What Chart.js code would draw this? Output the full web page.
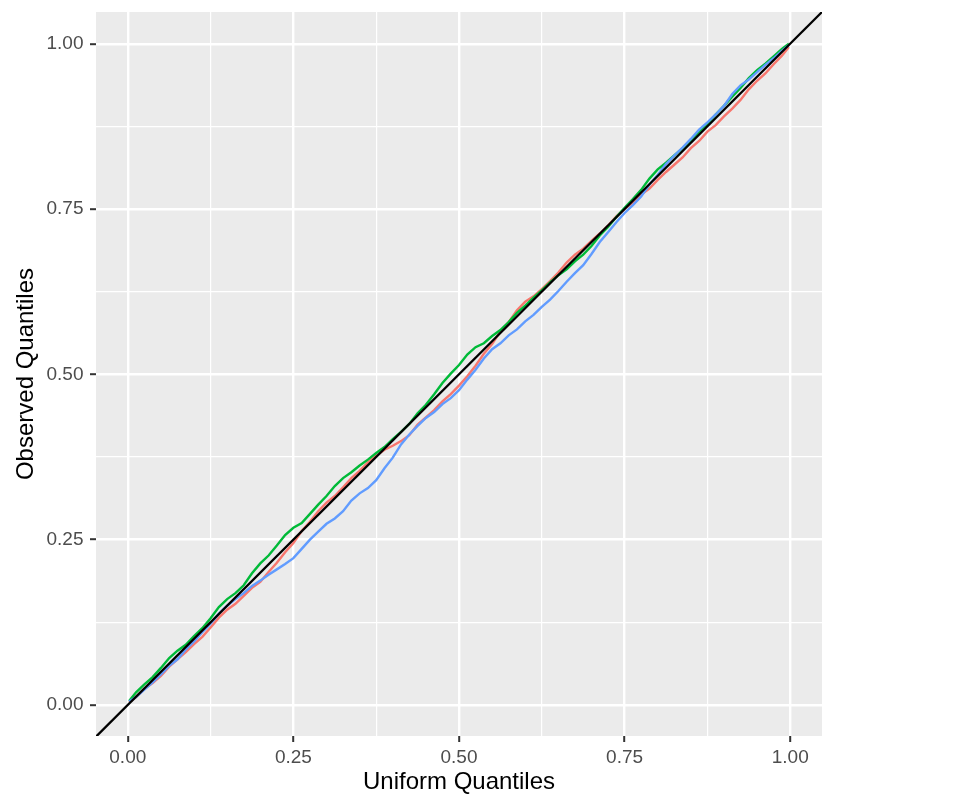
<!DOCTYPE html>
<html>
<head>
<meta charset="utf-8">
<script src="https://cdn.jsdelivr.net/npm/chart.js@4.4.1/dist/chart.umd.min.js"></script>
<style>
  html, body { margin: 0; padding: 0; background: #fff; }
  #wrap { width: 969px; height: 807px; }
</style>
</head>
<body>
<div id="wrap"><canvas id="qqChart" width="969" height="807"></canvas></div>
<script>
// uniform quantiles (x) shared by the three samples
const uniformQ = [0.002, 0.0125, 0.025, 0.0375, 0.05, 0.0625, 0.075, 0.0875, 0.1, 0.1125,
  0.125, 0.1375, 0.15, 0.1625, 0.175, 0.1875, 0.2, 0.2125, 0.225, 0.2375,
  0.25, 0.2625, 0.275, 0.2875, 0.3, 0.3125, 0.325, 0.3375, 0.35, 0.3625,
  0.375, 0.3875, 0.4, 0.4125, 0.425, 0.4375, 0.45, 0.4625, 0.475, 0.4875,
  0.5, 0.5125, 0.525, 0.5375, 0.55, 0.5625, 0.575, 0.5875, 0.6, 0.6125,
  0.625, 0.6375, 0.65, 0.6625, 0.675, 0.6875, 0.7, 0.7125, 0.725, 0.7375,
  0.75, 0.7625, 0.775, 0.7875, 0.8, 0.8125, 0.825, 0.8375, 0.85, 0.8625,
  0.875, 0.8875, 0.9, 0.9125, 0.925, 0.9375, 0.95, 0.9625, 0.975, 0.9875, 0.998];

// observed quantiles
const redObs = [0.004, 0.012, 0.024, 0.033, 0.044, 0.058, 0.069, 0.080, 0.092, 0.103,
  0.117, 0.132, 0.144, 0.153, 0.165, 0.177, 0.186, 0.201, 0.215, 0.231,
  0.245, 0.263, 0.277, 0.293, 0.306, 0.316, 0.329, 0.343, 0.354, 0.367,
  0.377, 0.386, 0.392, 0.399, 0.408, 0.424, 0.435, 0.446, 0.459, 0.470,
  0.483, 0.497, 0.513, 0.531, 0.546, 0.565, 0.579, 0.597, 0.610, 0.618,
  0.629, 0.641, 0.654, 0.669, 0.681, 0.690, 0.702, 0.713, 0.725, 0.739,
  0.750, 0.760, 0.772, 0.781, 0.794, 0.806, 0.817, 0.828, 0.842, 0.853,
  0.867, 0.877, 0.890, 0.902, 0.915, 0.931, 0.944, 0.955, 0.969, 0.982, 0.995];
const greenObs = [0.006, 0.019, 0.031, 0.042, 0.056, 0.071, 0.082, 0.091, 0.104, 0.116,
  0.131, 0.148, 0.160, 0.169, 0.181, 0.199, 0.214, 0.226, 0.241, 0.257,
  0.268, 0.275, 0.289, 0.303, 0.316, 0.331, 0.343, 0.352, 0.362, 0.371,
  0.381, 0.390, 0.402, 0.413, 0.425, 0.441, 0.454, 0.470, 0.487, 0.501,
  0.514, 0.530, 0.541, 0.547, 0.558, 0.567, 0.579, 0.593, 0.604, 0.616,
  0.627, 0.639, 0.650, 0.659, 0.671, 0.681, 0.694, 0.710, 0.723, 0.738,
  0.752, 0.765, 0.779, 0.796, 0.810, 0.820, 0.831, 0.842, 0.854, 0.867,
  0.879, 0.893, 0.906, 0.920, 0.933, 0.948, 0.960, 0.970, 0.981, 0.992, 1.000];
const blueObs = [0.005, 0.012, 0.023, 0.034, 0.046, 0.059, 0.069, 0.084, 0.096, 0.110,
  0.123, 0.138, 0.150, 0.160, 0.169, 0.180, 0.188, 0.197, 0.205, 0.213,
  0.222, 0.236, 0.250, 0.262, 0.274, 0.282, 0.293, 0.309, 0.320, 0.328,
  0.340, 0.358, 0.374, 0.394, 0.409, 0.422, 0.434, 0.443, 0.455, 0.464,
  0.476, 0.492, 0.507, 0.524, 0.538, 0.547, 0.559, 0.568, 0.580, 0.590,
  0.602, 0.613, 0.626, 0.640, 0.653, 0.665, 0.682, 0.700, 0.715, 0.730,
  0.744, 0.756, 0.769, 0.787, 0.802, 0.818, 0.831, 0.843, 0.856, 0.870,
  0.881, 0.893, 0.906, 0.924, 0.937, 0.946, 0.957, 0.968, 0.978, 0.989, 0.998];

// identity reference line
const refX = [-0.1, 1.1];
const refY = [-0.1, 1.1];

// major + minor grid positions, labels only on the majors
const gridVals = [0, 0.125, 0.25, 0.375, 0.5, 0.625, 0.75, 0.875, 1];
const majorVals = [0, 0.25, 0.5, 0.75, 1];

const pts = (xs, ys) => xs.map((x, i) => ({ x: x, y: ys[i] }));
const isMajor = v => majorVals.indexOf(v) !== -1;

const panelBg = {
  id: 'panelBg',
  beforeDraw(chart) {
    const a = chart.chartArea, c = chart.ctx;
    c.save();
    c.fillStyle = '#EBEBEB';
    c.fillRect(a.left, a.top, a.right - a.left, a.bottom - a.top);
    c.restore();
  }
};

function axisOpts(min, max, titleText, titlePad, isY) {
  return {
    type: 'linear',
    min: min,
    max: max,
    afterBuildTicks: s => { s.ticks = gridVals.map(v => ({ value: v })); },
    afterFit: s => {
      if (isY) s.width = 96; else s.height = 71;
      s.paddingTop = 0; s.paddingBottom = 0; s.paddingLeft = 0; s.paddingRight = 0;
    },
    ticks: {
      autoSkip: false,
      color: '#4D4D4D',
      font: { family: 'Liberation Sans, Arial, sans-serif', size: 19 },
      padding: isY ? 6.5 : 4,
      callback: v => isMajor(v) ? v.toFixed(2) : ''
    },
    grid: {
      color: '#FFFFFF',
      lineWidth: c => isMajor(c.tick.value) ? 2.4 : 1.2,
      drawTicks: true,
      tickLength: 6,
      tickWidth: 2,
      tickColor: c => isMajor(c.tick.value) ? '#333333' : 'rgba(0,0,0,0)'
    },
    border: { display: false },
    title: {
      display: true,
      text: titleText,
      color: '#000000',
      font: { family: 'Liberation Sans, Arial, sans-serif', size: 24 },
      padding: titlePad
    }
  };
}

new Chart(document.getElementById('qqChart').getContext('2d'), {
  type: 'line',
  data: {
    datasets: [
      { data: pts(refX, refY), borderColor: '#000000', borderWidth: 2.3, clip: 0, order: 0 },
      { data: pts(uniformQ, blueObs), borderColor: '#619CFF', borderWidth: 2.4, order: 1 },
      { data: pts(uniformQ, greenObs), borderColor: '#00BA38', borderWidth: 2.4, order: 2 },
      { data: pts(uniformQ, redObs), borderColor: '#F8766D', borderWidth: 2.4, order: 3 }
    ]
  },
  options: {
    responsive: false,
    animation: false,
    elements: { point: { radius: 0 }, line: { tension: 0, fill: false } },
    layout: { padding: { top: 12, right: 147, left: 0, bottom: 0 } },
    scales: {
      x: axisOpts(-0.048, 1.048, 'Uniform Quantiles', { top: 0, bottom: 10 }, false),
      y: axisOpts(-0.047, 1.048, 'Observed Quantiles', { top: 12, bottom: 0 }, true)
    },
    plugins: {
      legend: { display: false },
      tooltip: { enabled: false }
    }
  },
  plugins: [panelBg]
});
</script>
</body>
</html>
